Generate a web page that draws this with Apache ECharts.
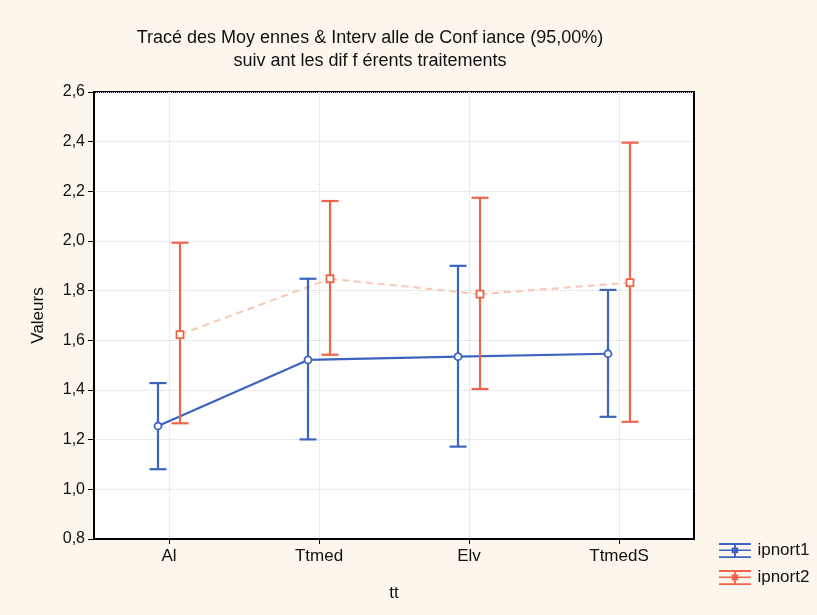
<!DOCTYPE html>
<html>
<head>
<meta charset="utf-8">
<script src="https://cdn.jsdelivr.net/npm/echarts@6/dist/echarts.min.js"></script>
<style>
html,body{margin:0;padding:0;background:#fdf6ec;}
#main{width:817px;height:615px;}
</style>
</head>
<body>
<div id="main"></div>
<script>
const categories = ['Al', 'Ttmed', 'Elv', 'TtmedS'];
const yTicks = [0.8, 1.0, 1.2, 1.4, 1.6, 1.8, 2.0, 2.2, 2.4, 2.6];

const ipnort1Mean = [1.255, 1.521, 1.534, 1.546];
const ipnort1Low  = [1.081, 1.201, 1.172, 1.292];
const ipnort1High = [1.428, 1.848, 1.900, 1.803];

const ipnort2Mean = [1.623, 1.848, 1.786, 1.832];
const ipnort2Low  = [1.266, 1.542, 1.404, 1.272];
const ipnort2High = [1.993, 2.161, 2.174, 2.396];

const BLUE = '#3b63bf';
const RED = '#f0654a';
const RED_LINE = '#f9c6b3';
const FONT = 'Liberation Sans, Arial, sans-serif';

function makeRender(means, lows, highs, color, offset, lineStyle, marker) {
  return function (params, api) {
    const i = params.dataIndex;
    const c = api.coord([i, means[i]]);
    const x = c[0] + offset;
    const y = c[1];
    const yH = api.coord([i, highs[i]])[1];
    const yL = api.coord([i, lows[i]])[1];
    const capW = 8.5;
    const children = [];
    if (i < means.length - 1) {
      const nc = api.coord([i + 1, means[i + 1]]);
      children.push({type: 'line', shape: {x1: x, y1: y, x2: nc[0] + offset, y2: nc[1]}, style: lineStyle, z2: 1});
    }
    const bs = {stroke: color, lineWidth: 2.2};
    children.push({type: 'line', shape: {x1: x, y1: yH, x2: x, y2: yL}, style: bs, z2: 2});
    children.push({type: 'line', shape: {x1: x - capW, y1: yH, x2: x + capW, y2: yH}, style: bs, z2: 2});
    children.push({type: 'line', shape: {x1: x - capW, y1: yL, x2: x + capW, y2: yL}, style: bs, z2: 2});
    if (marker === 'circle') {
      children.push({type: 'circle', shape: {cx: x, cy: y, r: 3.5}, style: {fill: '#fff', stroke: color, lineWidth: 1.8}, z2: 3});
    } else {
      children.push({type: 'rect', shape: {x: x - 3.5, y: y - 3.5, width: 7, height: 7}, style: {fill: '#fff', stroke: color, lineWidth: 1.8}, z2: 3});
    }
    return {type: 'group', children: children};
  };
}

const legendIcon = 'path://M0 0H34V2H0Z M0 14H34V16H0Z M0 7H34V8.6H0Z M16 0H18V16H16Z M13.5 4.8H20.5V11H13.5Z';

const chart = echarts.init(document.getElementById('main'), null, {renderer: 'canvas'});
chart.setOption({
  backgroundColor: '#fdf6ec',
  animation: false,
  title: {
    text: 'Tracé des Moy ennes & Interv alle de Conf iance (95,00%)\nsuiv ant les dif f érents traitements',
    left: 365,
    top: 22,
    textAlign: 'center',
    textStyle: {fontFamily: FONT, fontSize: 18, fontWeight: 'normal', color: '#111', lineHeight: 23}
  },
  legend: {
    orient: 'vertical',
    left: 714,
    top: 537,
    itemWidth: 35,
    itemHeight: 15,
    itemGap: 10,
    textStyle: {fontFamily: FONT, fontSize: 17, color: '#111'},
    data: [{name: 'ipnort1', icon: legendIcon}, {name: 'ipnort2', icon: legendIcon}]
  },
  grid: {left: 94, right: 123, top: 92, bottom: 76, show: true, backgroundColor: '#ffffff', borderColor: '#000', borderWidth: 2},
  xAxis: {
    type: 'category',
    data: categories,
    boundaryGap: true,
    name: 'tt',
    nameLocation: 'middle',
    nameGap: 46,
    nameTextStyle: {fontFamily: FONT, fontSize: 17, color: '#111'},
    axisLine: {show: true, lineStyle: {color: '#000', width: 2}},
    axisTick: {show: true, alignWithLabel: true, length: 5, lineStyle: {color: '#000'}},
    axisLabel: {fontFamily: FONT, fontSize: 17, color: '#111', margin: 9},
    splitLine: {show: true, alignWithLabel: true, lineStyle: {color: '#d6d6e0', type: 'dotted', width: 1}}
  },
  yAxis: {
    type: 'value',
    min: yTicks[0],
    max: yTicks[yTicks.length - 1],
    interval: 0.2,
    name: 'Valeurs',
    nameLocation: 'middle',
    nameGap: 47,
    nameTextStyle: {fontFamily: FONT, fontSize: 17, color: '#111'},
    axisLine: {show: true, lineStyle: {color: '#000', width: 2}},
    axisTick: {show: true, length: 6, lineStyle: {color: '#000'}},
    axisLabel: {fontFamily: FONT, fontSize: 16, color: '#111', margin: 9,
      formatter: function (v) { return v.toFixed(1).replace('.', ','); }},
    splitLine: {show: true, lineStyle: {color: '#d6d6e0', type: 'dotted', width: 1}}
  },
  series: [
    {
      name: 'ipnort2',
      type: 'custom',
      itemStyle: {color: RED},
      renderItem: makeRender(ipnort2Mean, ipnort2Low, ipnort2High, RED, 11,
        {stroke: RED_LINE, lineWidth: 2, lineDash: [7, 5]}, 'rect'),
      data: ipnort2Mean.map(function (m, i) { return [i, m, ipnort2Low[i], ipnort2High[i]]; }),
      encode: {x: 0, y: [1, 2, 3]}
    },
    {
      name: 'ipnort1',
      type: 'custom',
      itemStyle: {color: BLUE},
      renderItem: makeRender(ipnort1Mean, ipnort1Low, ipnort1High, BLUE, -11,
        {stroke: BLUE, lineWidth: 2.2}, 'circle'),
      data: ipnort1Mean.map(function (m, i) { return [i, m, ipnort1Low[i], ipnort1High[i]]; }),
      encode: {x: 0, y: [1, 2, 3]}
    }
  ]
});
</script>
</body>
</html>
